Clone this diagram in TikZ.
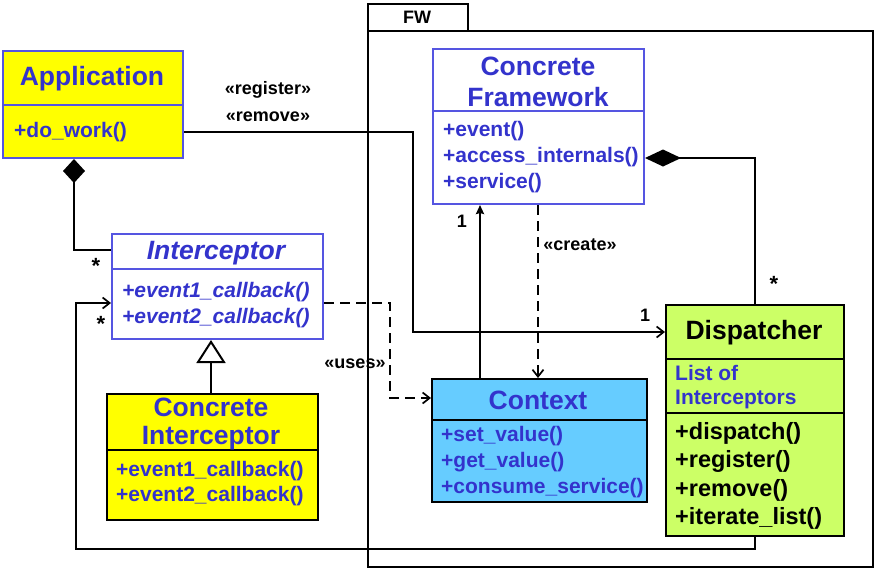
\documentclass[tikz,border=0pt]{standalone}
\usepackage{fontspec}
\setmainfont{Liberation Sans}
\usetikzlibrary{arrows.meta}
\definecolor{txtblue}{RGB}{51,51,204}
\definecolor{bdblue}{RGB}{85,85,225}
\definecolor{appyellow}{RGB}{255,255,0}
\definecolor{ctxblue}{RGB}{102,204,255}
\definecolor{dispgreen}{RGB}{204,255,102}
\newcommand{\fsz}[1]{\fontsize{#1}{#1}\selectfont}
\tikzset{
  clsbox/.style={draw=#1, line width=2pt, inner sep=0pt, anchor=north west},
  divline/.style={draw=#1, line width=2pt},
  ttl/.style={font=\bfseries\fsz{26.5}, text=txtblue, align=center, inner sep=0pt},
  mth/.style={font=\bfseries\fsz{21}, text=txtblue, anchor=west, inner sep=0pt},
  lbl/.style={font=\bfseries\fsz{18}, text=black, inner sep=0pt},
  conn/.style={line width=2pt, draw=black},
  dconn/.style={line width=2pt, draw=black, dash pattern=on 10pt off 6pt},
  openarr/.style={-{Straight Barb[length=7pt,width=11pt,line width=1.7pt]}},
}
\begin{document}
\begin{tikzpicture}[x=1pt,y=-1pt]
\useasboundingbox (0,0) rectangle (876,571);
\fill[white] (0,0) rectangle (876,571);

% FW package
\node[clsbox=black, minimum width=100pt, minimum height=27pt] (fwtab) at (367,3) {};
\node[clsbox=black, minimum width=505pt, minimum height=536pt] (fw) at (367,30) {};
\node[lbl] (fwlbl) at (417,17) {FW};

% Application
\node[clsbox=bdblue, fill=appyellow, minimum width=180pt, minimum height=107pt] (app) at (2,50) {};
\draw[divline=bdblue] (app.west |- 0,105) -- (app.east |- 0,105);
\node[ttl] (appT) at (92,79) {Application};
\node[mth] (appM) at (14,132) {+do\_work()};

% Interceptor
\node[clsbox=bdblue, fill=white, minimum width=211pt, minimum height=105pt] (intc) at (111,233) {};
\draw[divline=bdblue] (intc.west |- 0,269) -- (intc.east |- 0,269);
\node[ttl, font=\bfseries\itshape\fsz{26.5}] (intcT) at (216,253) {Interceptor};
\node[mth, font=\bfseries\itshape\fsz{21}] (intcM1) at (122,292) {+event1\_callback()};
\node[mth, font=\bfseries\itshape\fsz{21}] (intcM2) at (122,318) {+event2\_callback()};

% Concrete Interceptor
\node[clsbox=black, fill=appyellow, minimum width=211pt, minimum height=126pt] (cint) at (106,393) {};
\draw[divline=black] (cint.west |- 0,450) -- (cint.east |- 0,450);
\node[ttl] (cintT1) at (211,407) {Concrete};
\node[ttl] (cintT2) at (211,438) {Interceptor};
\node[mth] (cintM1) at (116,471) {+event1\_callback()};
\node[mth] (cintM2) at (116,496) {+event2\_callback()};

% Concrete Framework
\node[clsbox=bdblue, fill=white, minimum width=211pt, minimum height=155pt] (cf) at (432,48) {};
\draw[divline=bdblue] (cf.west |- 0,111) -- (cf.east |- 0,111);
\node[ttl] (cfT1) at (538,66) {Concrete};
\node[ttl] (cfT2) at (538,97) {Framework};
\node[mth] (cfM1) at (443,131) {+event()};
\node[mth] (cfM2) at (443,157) {+access\_internals()};
\node[mth] (cfM3) at (443,183) {+service()};

% Context
\node[clsbox=black, fill=ctxblue, minimum width=215pt, minimum height=123pt] (ctx) at (431,378) {};
\draw[divline=black] (ctx.west |- 0,420) -- (ctx.east |- 0,420);
\node[ttl] (ctxT) at (538,400) {Context};
\node[mth] (ctxM1) at (441,436) {+set\_value()};
\node[mth] (ctxM2) at (441,462) {+get\_value()};
\node[mth] (ctxM3) at (441,488) {+consume\_service()};

% Dispatcher
\node[clsbox=black, fill=dispgreen, minimum width=178pt, minimum height=231pt] (disp) at (665,304) {};
\draw[divline=black] (disp.west |- 0,359) -- (disp.east |- 0,359);
\draw[divline=black] (disp.west |- 0,413) -- (disp.east |- 0,413);
\node[ttl, text=black] (dispT) at (754,333) {Dispatcher};
\node[mth] (dispA1) at (675,373) {List of};
\node[mth] (dispA2) at (675,399) {Interceptors};
\node[mth, text=black, font=\bfseries\fsz{23.5}] (dispM1) at (675,433) {+dispatch()};
\node[mth, text=black, font=\bfseries\fsz{23.5}] (dispM2) at (675,461) {+register()};
\node[mth, text=black, font=\bfseries\fsz{23.5}] (dispM3) at (675,490) {+remove()};
\node[mth, text=black, font=\bfseries\fsz{23.5}] (dispM4) at (675,518) {+iterate\_list()};

% bend coordinates
\coordinate (regbend) at (413,132);
\coordinate (dispbend) at (755,549);
\coordinate (intcbend) at (76,303);
\coordinate (usesbend) at (390,303);
\coordinate (cfbend) at (755,158);
\coordinate (appbend) at (74,250);

% register / remove
\draw[conn, openarr] (app.east |- regbend) -- (regbend) |- (disp.west |- 0,332);
\node[lbl] (lreg) at (268,90) {«register»};
\node[lbl] (lrem) at (268,117) {«remove»};
\node[lbl] (l1a) at (645,315) {1};

% Application composition of Interceptor
\draw[conn, {Diamond[length=24pt,width=22pt,fill=black]}-] (app.south -| appbend) -- (appbend) -- (intc.west |- appbend);
\node[lbl, font=\bfseries\fsz{22}] (ls1) at (96,266) {*};

% Dispatcher -> Interceptor
\draw[conn, openarr] (disp.south -| dispbend) -- (dispbend) -| (intcbend) -- (intc.west |- intcbend);
\node[lbl, font=\bfseries\fsz{22}] (ls2) at (101,324) {*};

% inheritance
\draw[conn, -{Triangle[open,length=23pt,width=29pt,fill=white]}] (cint.north -| 211,0) -- (intc.south -| 211,0);

% uses
\draw[dconn, openarr] (intc.east |- usesbend) -- (usesbend) |- (ctx.west |- 0,398);
\node[lbl] (luses) at (355,364) {«uses»};

% Context -> CF
\draw[conn, -{Stealth[length=9pt,width=8pt,inset=1pt]}] (ctx.north -| 480,0) -- (cf.south -| 480,0);
\node[lbl] (l1b) at (462,221) {1};

% create
\draw[dconn, openarr] (cf.south -| 538,0) -- (ctx.north -| 538,0);
\node[lbl] (lcreate) at (580,245) {«create»};

% CF composition of Dispatcher
\draw[conn, {Diamond[length=36pt,width=17pt,fill=black]}-] (cf.east |- cfbend) -- (cfbend) -- (disp.north -| cfbend);
\node[lbl, font=\bfseries\fsz{22}] (ls3) at (774,284) {*};
\end{tikzpicture}
\end{document}
